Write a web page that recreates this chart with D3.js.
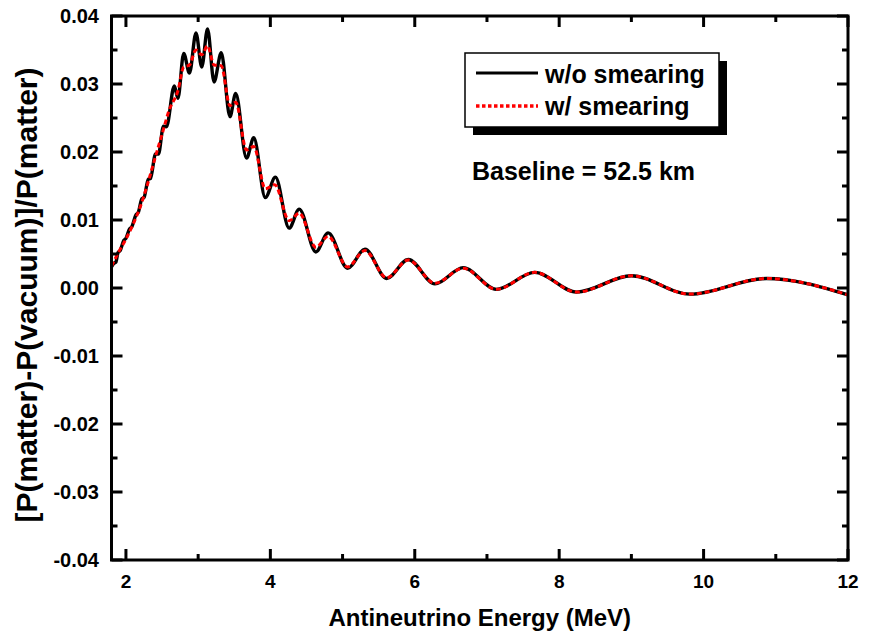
<!DOCTYPE html>
<html>
<head>
<meta charset="utf-8">
<script src="https://cdn.jsdelivr.net/npm/d3@7"></script>
<style>
  html, body { margin: 0; padding: 0; background: #fff; }
  svg { display: block; }
  text { font-family: "Liberation Sans", Arial, Helvetica, sans-serif; font-weight: bold; fill: #000; }
</style>
</head>
<body>
<svg id="chart" width="870" height="637"></svg>
<script>
// ---- data ----
const energyNoSmear = [1.80,1.83,1.86,1.89,1.92,1.97,2.00,2.05,2.08,2.14,2.17,2.22,2.25,2.31,2.34,2.41,2.45,2.52,2.56,2.67,2.72,2.80,2.88,2.97,3.05,3.13,3.22,3.32,3.44,3.52,3.67,3.77,3.93,4.07,4.26,4.40,4.63,4.80,5.07,5.31,5.61,5.91,6.28,6.67,7.13,7.66,8.24,9.00,9.81,10.87,12.00];
const diffNoSmear   = [0.0031,0.0036,0.0038,0.0052,0.0055,0.0070,0.0073,0.0087,0.0090,0.0108,0.0111,0.0131,0.0133,0.0160,0.0161,0.0197,0.0197,0.0238,0.0237,0.0297,0.0279,0.0345,0.0316,0.0375,0.0325,0.0381,0.0303,0.0346,0.0252,0.0286,0.0191,0.0221,0.0133,0.0163,0.0088,0.0116,0.0053,0.0081,0.0029,0.0057,0.0014,0.0042,0.0006,0.0030,-0.0002,0.0023,-0.0006,0.0018,-0.0009,0.0014,-0.0010];

const energySmear = [1.80,1.90,2.00,2.10,2.20,2.30,2.40,2.50,2.60,2.72,2.80,2.88,2.97,3.05,3.13,3.22,3.32,3.44,3.52,3.67,3.77,3.93,4.06,4.26,4.40,4.63,4.80,5.07,5.31,5.61,5.91,6.28,6.67,7.13,7.66,8.24,9.00,9.81,10.87,12.00];
const diffSmear   = [0.0032,0.0053,0.0072,0.0094,0.0120,0.0153,0.0190,0.0226,0.0262,0.0290,0.0325,0.0328,0.0350,0.0343,0.0356,0.0328,0.0327,0.0268,0.0273,0.0203,0.0208,0.0146,0.0152,0.0099,0.0110,0.0060,0.0076,0.0031,0.0055,0.0015,0.0041,0.0007,0.0029,-0.0002,0.0023,-0.0006,0.0018,-0.0009,0.0014,-0.0010];

const xMajorTicks = [2,4,6,8,10,12];
const xMinorTicks = [3,5,7,9,11];
const yMajorTicks = [0.04,0.03,0.02,0.01,0.00,-0.01,-0.02,-0.03,-0.04];
const yTickLabels = ["0.04","0.03","0.02","0.01","0.00","-0.01","-0.02","-0.03","-0.04"];
const yMinorTicks = [0.035,0.025,0.015,0.005,-0.005,-0.015,-0.025,-0.035];

const seriesNames = ["w/o smearing","w/ smearing"];
const xTitle = "Antineutrino Energy (MeV)";
const yTitle = "[P(matter)-P(vacuum)]/P(matter)";
const annotation = "Baseline = 52.5 km";

// ---- drawing ----
const svg = d3.select("#chart");
const L = 111.5, R = 848, T = 16, B = 560;
const x = d3.scaleLinear().domain([1.8, 12]).range([L, R]);
const y = d3.scaleLinear().domain([-0.04, 0.04]).range([B, T]);

const noSmear = energyNoSmear.map((e,i) => [e, diffNoSmear[i]]);
const smear = energySmear.map((e,i) => [e, diffSmear[i]]);

const line = d3.line().x(d => x(d[0])).y(d => y(d[1])).curve(d3.curveMonotoneX);

const plot = svg.append("g");
plot.append("path").datum(noSmear).attr("d", line)
  .attr("fill","none").attr("stroke","#000").attr("stroke-width",3.4).attr("stroke-linejoin","round");
plot.append("path").datum(smear).attr("d", line)
  .attr("fill","none").attr("stroke","#ff0000").attr("stroke-width",3).attr("stroke-dasharray","5 3");

// frame
svg.append("rect").attr("x",L).attr("y",T).attr("width",R-L).attr("height",B-T)
  .attr("fill","none").attr("stroke","#000").attr("stroke-width",3);

// ticks (inward, mirrored)
const tk = svg.append("g").attr("stroke","#000").attr("stroke-width",3);
const MAJ = 11, MIN = 6;
xMajorTicks.forEach(v => {
  tk.append("line").attr("x1",x(v)).attr("x2",x(v)).attr("y1",B).attr("y2",B-MAJ);
  tk.append("line").attr("x1",x(v)).attr("x2",x(v)).attr("y1",T).attr("y2",T+MAJ);
});
xMinorTicks.forEach(v => {
  tk.append("line").attr("x1",x(v)).attr("x2",x(v)).attr("y1",B).attr("y2",B-MIN);
  tk.append("line").attr("x1",x(v)).attr("x2",x(v)).attr("y1",T).attr("y2",T+MIN);
});
yMajorTicks.forEach(v => {
  tk.append("line").attr("y1",y(v)).attr("y2",y(v)).attr("x1",L).attr("x2",L+MAJ);
  tk.append("line").attr("y1",y(v)).attr("y2",y(v)).attr("x1",R).attr("x2",R-MAJ);
});
yMinorTicks.forEach(v => {
  tk.append("line").attr("y1",y(v)).attr("y2",y(v)).attr("x1",L).attr("x2",L+MIN);
  tk.append("line").attr("y1",y(v)).attr("y2",y(v)).attr("x1",R).attr("x2",R-MIN);
});

// tick labels
xMajorTicks.forEach(v => {
  svg.append("text").attr("x",x(v)).attr("y",588).attr("text-anchor","middle")
    .attr("font-size",19).text(String(v));
});
yMajorTicks.forEach((v,i) => {
  svg.append("text").attr("x",99).attr("y",y(v)+7).attr("text-anchor","end")
    .attr("font-size",20).text(yTickLabels[i]);
});

// axis titles
svg.append("text").attr("x",(L+R)/2).attr("y",626).attr("text-anchor","middle")
  .attr("font-size",24).text(xTitle);
svg.append("text").attr("transform","translate(37,295) rotate(-90)").attr("text-anchor","middle")
  .attr("font-size",30).text(yTitle);

// legend
const lg = svg.append("g");
lg.append("rect").attr("x",473).attr("y",61).attr("width",254).attr("height",74).attr("fill","#000");
lg.append("rect").attr("x",465).attr("y",53).attr("width",254).attr("height",74)
  .attr("fill","#fff").attr("stroke","#000").attr("stroke-width",1.5);
lg.append("line").attr("x1",476).attr("x2",538).attr("y1",73).attr("y2",73)
  .attr("stroke","#000").attr("stroke-width",3);
lg.append("line").attr("x1",476).attr("x2",538).attr("y1",106).attr("y2",106)
  .attr("stroke","#ff0000").attr("stroke-width",3.5).attr("stroke-dasharray","3.5 2.5");
lg.append("text").attr("x",545).attr("y",83).attr("font-size",25).text(seriesNames[0]);
lg.append("text").attr("x",545).attr("y",115).attr("font-size",25).text(seriesNames[1]);

svg.append("text").attr("x",472).attr("y",180).attr("font-size",25).text(annotation);
</script>
</body>
</html>
